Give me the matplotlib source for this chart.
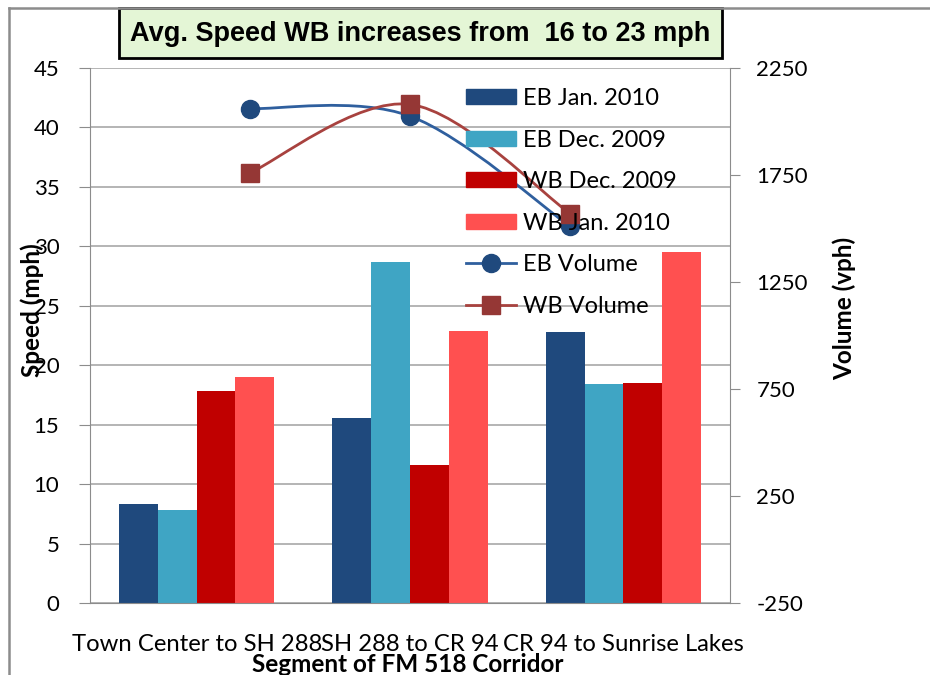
import numpy as np
import matplotlib.pyplot as plt
from matplotlib.path import Path
from matplotlib.patches import PathPatch, Rectangle, Patch
from matplotlib.lines import Line2D

segments = ['Town Center to SH 288', 'SH 288 to CR 94', 'CR 94 to Sunrise Lakes']
bar_labels = ['EB Jan. 2010', 'EB Dec. 2009', 'WB Dec. 2009', 'WB Jan. 2010']
eb_jan_2010 = [8.3, 15.6, 22.8]
eb_dec_2009 = [7.8, 28.7, 18.4]
wb_dec_2009 = [17.8, 11.6, 18.5]
wb_jan_2010 = [19.0, 22.9, 29.5]

# volume series sit on their own category spacing
vol_x = [0.25, 1.0, 1.75]
eb_volume = [2060, 2025, 1510]
wb_volume = [1760, 2080, 1570]

speed_ticks = [0, 5, 10, 15, 20, 25, 30, 35, 40, 45]
volume_ticks = [-250, 250, 750, 1250, 1750, 2250]

bar_colors = ['#1F497D', '#3FA5C4', '#C00000', '#FF5050']
eb_col = '#1F497D'
eb_line = '#2F5F9E'
wb_col = '#953735'
wb_line = '#A8423F'
grid_col = '#A0A0A0'

W, H = 930, 675
plt.rcParams['font.family'] = ['Lato', 'DejaVu Sans']
plt.rcParams['axes.unicode_minus'] = False


def smooth_path(xs, ys):
    # cubic bezier through the points, excel-style smoothed line
    pts = np.column_stack([xs, ys]).astype(float)
    n = len(pts)
    verts = [pts[0]]
    codes = [Path.MOVETO]
    for i in range(n - 1):
        p0 = pts[max(i - 1, 0)]
        p1, p2 = pts[i], pts[i + 1]
        p3 = pts[min(i + 2, n - 1)]
        verts += [p1 + (p2 - p0) / 6, p2 - (p3 - p1) / 6, p2]
        codes += [Path.CURVE4] * 3
    return Path(verts, codes)


def fx(px):
    return px / W


def fy(py):
    return 1 - py / H


fig = plt.figure(figsize=(9.3, 6.75), dpi=100)
ax = fig.add_axes([fx(90), fy(603), fx(730) - fx(90), fy(68) - fy(603)])
ax2 = ax.twinx()

x = np.arange(len(segments))
w = 0.182
series = [eb_jan_2010, eb_dec_2009, wb_dec_2009, wb_jan_2010]
for k, vals in enumerate(series):
    ax.bar(x + (k - 1.5) * w, vals, w, color=bar_colors[k], zorder=2)

ax.set_xlim(-0.5, 2.5)
ax.set_ylim(0, 45)
ax.set_yticks(speed_ticks)
ax.set_xticks(x)
ax.set_xticklabels(segments, fontsize=17.2)
ax.tick_params(axis='x', length=0, pad=22)
ax.tick_params(axis='y', length=8, color='#8C8C8C', pad=14, labelsize=16)
ax.yaxis.grid(True, color=grid_col, lw=1.1)
ax.set_axisbelow(True)
for s in ['top', 'right']:
    ax.spines[s].set_visible(False)
for s in ['left', 'bottom']:
    ax.spines[s].set_color('#8C8C8C')

ax2.set_ylim(-250, 2250)
ax2.set_yticks(volume_ticks)
ax2.tick_params(axis='y', length=7, color='#8C8C8C', pad=12, labelsize=16)
for s in ['top', 'left', 'bottom']:
    ax2.spines[s].set_visible(False)
ax2.spines['right'].set_color('#8C8C8C')

ax2.add_patch(PathPatch(smooth_path(vol_x, eb_volume), fill=False,
                        edgecolor=eb_line, lw=2))
ax2.add_patch(PathPatch(smooth_path(vol_x, wb_volume), fill=False,
                        edgecolor=wb_line, lw=2))
ax2.plot(vol_x, eb_volume, 'o', color=eb_col, ms=13, ls='none')
ax2.plot(vol_x, wb_volume, 's', color=wb_col, ms=13, ls='none')

handles = [Patch(color=c) for c in bar_colors]
handles.append(Line2D([], [], color=eb_line, lw=2, marker='o', ms=13,
                      markerfacecolor=eb_col, markeredgecolor=eb_col))
handles.append(Line2D([], [], color=wb_line, lw=2, marker='s', ms=13,
                      markerfacecolor=wb_col, markeredgecolor=wb_col))
labels = bar_labels + ['EB Volume', 'WB Volume']
ax2.legend(handles, labels, loc='upper left', bbox_to_anchor=(0.572, 0.98),
           frameon=False, fontsize=17, handlelength=2.12, handleheight=0.6,
           labelspacing=0.87, handletextpad=0.3, borderaxespad=0)

fig.text(fx(32), fy(310), 'Speed (mph)', rotation=90, ha='center',
         va='center', fontsize=17.5, fontweight='bold')
fig.text(fx(844), fy(308), 'Volume (vph)', rotation=90, ha='center',
         va='center', fontsize=17.5, fontweight='bold')
fig.text(fx(408), fy(664), 'Segment of FM 518 Corridor', ha='center',
         va='center', fontsize=17.5, fontweight='bold')

# chart frame and headline box
fig.add_artist(Line2D([fx(9), fx(930)], [fy(8), fy(8)], color='#8C8C8C', lw=1.8))
fig.add_artist(Line2D([fx(9), fx(9)], [fy(8), fy(675)], color='#8C8C8C', lw=1.8))
fig.add_artist(Rectangle((fx(119), fy(58)), fx(722) - fx(119), fy(8) - fy(58),
                         facecolor='#E4F6D6', edgecolor='black', lw=2))
fig.text(fx(420), fy(34), 'Avg. Speed WB increases from  16 to 23 mph',
         ha='center', va='center', fontsize=19.5, fontweight='bold',
         family=['Liberation Sans', 'DejaVu Sans'])

fig.savefig('out.png', dpi=100)
